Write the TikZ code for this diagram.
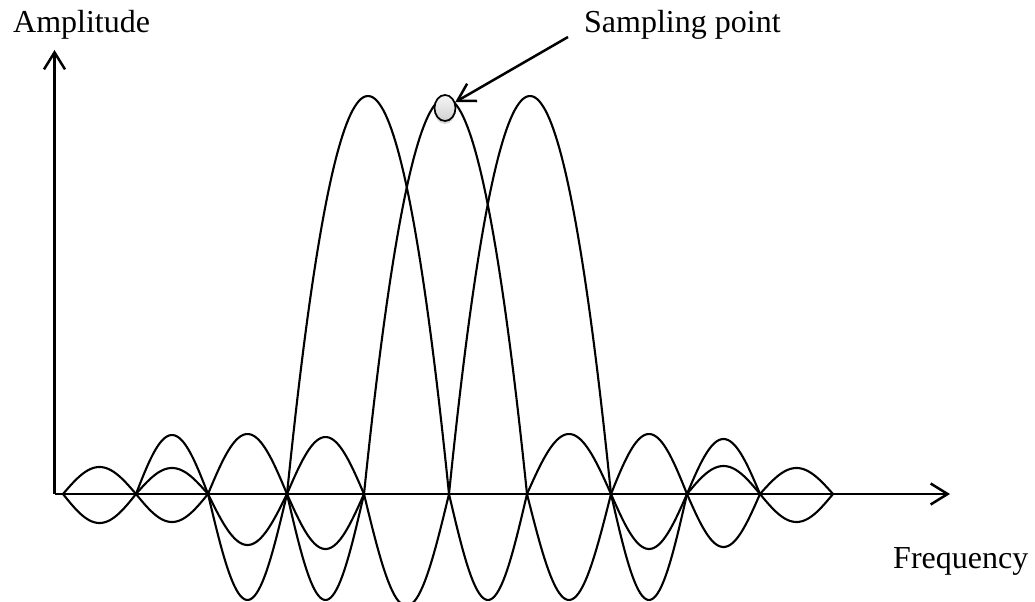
\documentclass[tikz,border=0pt]{standalone}
\usepackage{fontspec}
\setmainfont{Liberation Serif}
\usetikzlibrary{arrows.meta,shapes.geometric,shadows}
\newcommand\mylobe[3]{\draw[curve] plot[domain=0:180, samples=40, variable=\t] ({#1+(#2-#1)*\t/180},{494-(#3)*sin(\t)});}
\newcommand\mymainlobe[3]{\draw[curve] plot[domain=-1:1, samples=80, variable=\u] ({(#1+#2)/2+(#2-#1)/2*\u},{494-(#3)*(1-\u*\u)});}
\begin{document}
\begin{tikzpicture}[x=1bp,y=-1bp,
  axisline/.style={line width=2.7bp,-{Straight Barb[length=17bp,width=21bp,line width=2.5bp]}},
  curve/.style={line width=2.1bp, line join=round, line cap=round},
  lbl/.style={font=\fontsize{32bp}{36bp}\selectfont, inner sep=0pt, anchor=base west},
  samp/.style={ellipse, draw, line width=1.7bp, minimum width=21bp, minimum height=26bp, inner sep=0pt,
    top color=gray!8, bottom color=gray!35,
    drop shadow={opacity=0.3, shadow xshift=0bp, shadow yshift=-3bp}},
  pointer/.style={line width=2.5bp, -{Straight Barb[length=17bp,width=20bp]}}]
\useasboundingbox (0,0) rectangle (1035,602);
% axes
\coordinate (O) at (54.5,494);
\coordinate (ytip) at (54.5,50);
\coordinate (xtip) at (950,494);
\begin{scope}
\clip (0,0) rectangle (1035,602);
% main lobes
\mymainlobe{287}{449}{398}
\mymainlobe{364}{527}{396}
\mymainlobe{449}{611}{398}
% upper side lobes
\mylobe{63}{136}{27}
\mylobe{136}{208}{59}
\mylobe{136}{208}{26}
\mylobe{208}{287}{60}
\mylobe{287}{364}{57}
\mylobe{527}{611}{60}
\mylobe{611}{687}{60}
\mylobe{687}{760}{55}
\mylobe{687}{760}{28}
\mylobe{760}{833}{26}
% lower side lobes
\mylobe{63}{136}{-29}
\mylobe{136}{208}{-28}
\mylobe{208}{287}{-51}
\mylobe{208}{287}{-106}
\mylobe{287}{364}{-55}
\mylobe{287}{364}{-106}
\mylobe{364}{449}{-112}
\mylobe{449}{527}{-106}
\mylobe{527}{611}{-106}
\mylobe{611}{687}{-55}
\mylobe{611}{687}{-106}
\mylobe{687}{760}{-53}
\mylobe{760}{833}{-28}
\end{scope}
\draw[axisline] (O) -- (ytip);
\draw[axisline] (O) -- (xtip);
% labels
\node[lbl] (amp) at (13,33) {Amplitude};
\node[lbl] (freq) at (893,568) {Frequency};
\node[lbl] (splbl) at (584,33) {Sampling point};
% sampling point
\node[samp] (sp) at (445,108) {};
\coordinate (sptail) at (568,37);
\draw[pointer] (sptail) -- (sp);
\end{tikzpicture}
\end{document}
